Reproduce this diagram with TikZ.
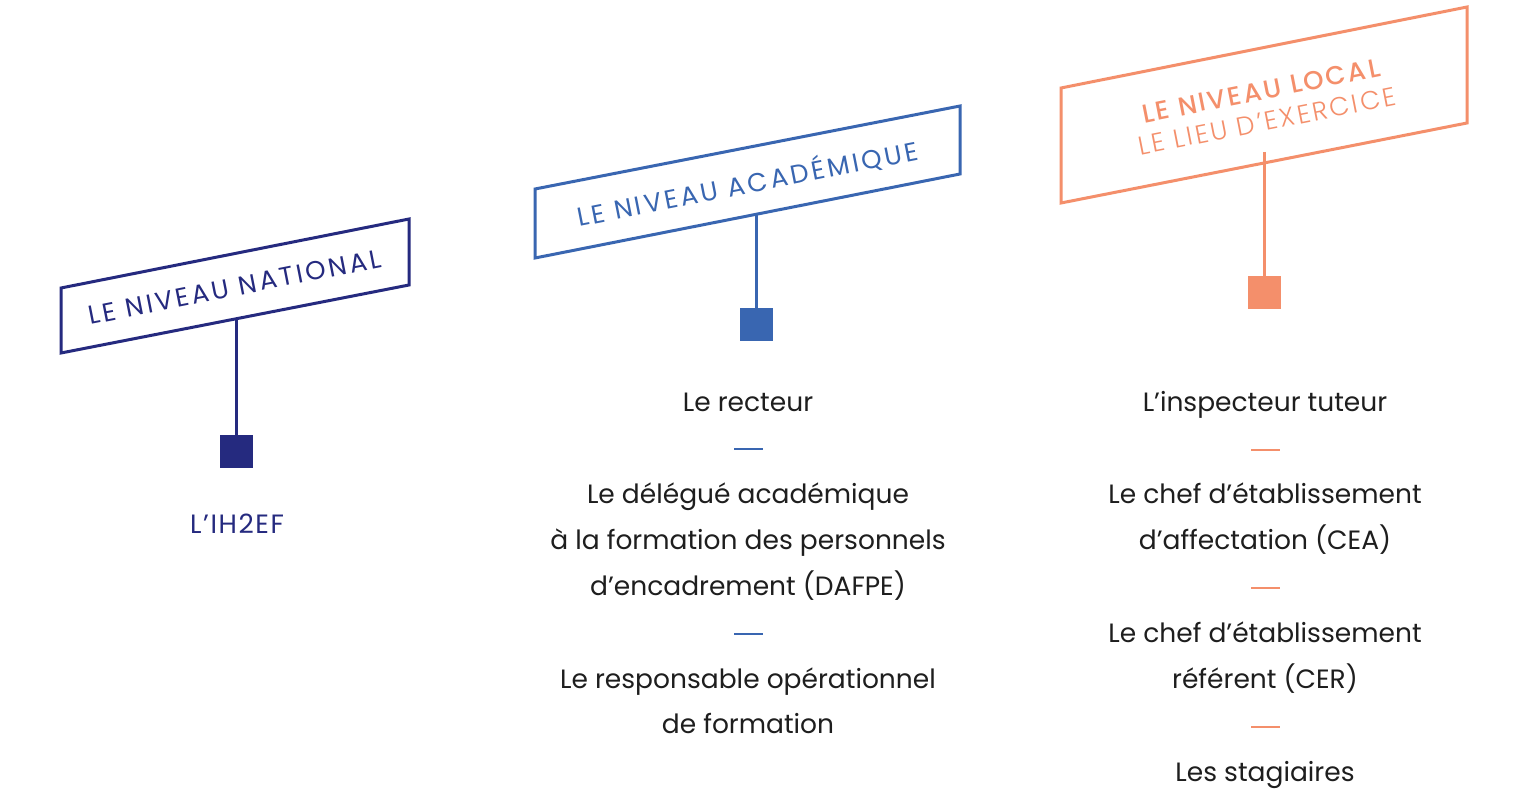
\documentclass[tikz,border=0pt]{standalone}
\usepackage{fontspec}
\usetikzlibrary{calc}
\setmainfont{Poppins}
\newfontfamily\hreg{Poppins}[LetterSpace=11.5]
\newfontfamily\hlight{Poppins Light}[LetterSpace=9.5]
\newfontfamily\hmed{Poppins Medium}[LetterSpace=9]
\newfontfamily\natfont{Poppins}[LetterSpace=6]
\definecolor{navy}{HTML}{252A7F}
\definecolor{acad}{HTML}{3966B1}
\definecolor{salmon}{HTML}{F48F6B}
\definecolor{bodytxt}{HTML}{1E1E1E}
\tikzset{
  boxline/.style={line width=3pt, line join=miter},
  stemline/.style={line width=2.6pt},
  sqmark/.style={rectangle, minimum size=33pt, inner sep=0pt, fill=#1},
  dashmark/.style={rectangle, minimum width=29pt, minimum height=2pt, inner sep=0pt, fill=#1},
  bodyline/.style={anchor=base, inner sep=0pt, text=bodytxt, font=\fontsize{26.5}{46}\selectfont},
  headtext/.style={rotate=11.2, inner sep=0pt, align=center, text=#1, font=\fontsize{26}{31}\selectfont},
}
\begin{document}
\begin{tikzpicture}[x=1pt,y=-1pt]
\useasboundingbox[fill=white] (0,0) rectangle (1521,799);

% ---------- National ----------
\coordinate (nTL) at (61,288);
\coordinate (nTR) at (409,219);
\coordinate (nBR) at (409,285);
\coordinate (nBL) at (61,353);
\draw[navy, boxline] (nTL) -- (nTR) -- (nBR) -- (nBL) -- cycle;
\node[headtext=navy] (nhead) at (235,287) {\hreg LE NIVEAU NATIONAL};
\coordinate (nstem) at ($(nBL)!0.5!(nBR)$);
\node[sqmark=navy] (nsq) at (236.5,451.5) {};
\draw[navy, stemline] (nsq.north |- nstem) -- (nsq.north);
\node[bodyline, text=navy] (n1) at (237,533.5) {\natfont L’IH2EF};

% ---------- Academique ----------
\coordinate (aTL) at (535,189);
\coordinate (aTR) at (960,106);
\coordinate (aBR) at (960,174);
\coordinate (aBL) at (535,258);
\draw[acad, boxline] (aTL) -- (aTR) -- (aBR) -- (aBL) -- cycle;
\node[headtext=acad] (ahead) at (747.5,183) {\hreg LE NIVEAU ACADÉMIQUE};
\coordinate (astem) at ($(aBL)!0.521!(aBR)$);
\node[sqmark=acad] (asq) at (756.5,324.5) {};
\draw[acad, stemline] (asq.north |- astem) -- (asq.north);

\node[bodyline] (a1) at (748,411.5) {Le recteur};
\node[dashmark=acad] (ad1) at (748,449) {};
\node[bodyline] (a2) at (748,503.5) {Le délégué académique};
\node[bodyline] (a3) at (748,549.5) {à la formation des personnels};
\node[bodyline] (a4) at (748,595.5) {d’encadrement (DAFPE)};
\node[dashmark=acad] (ad2) at (748,634) {};
\node[bodyline] (a5) at (748,688.5) {Le responsable opérationnel};
\node[bodyline] (a6) at (748,733.5) {de formation};

% ---------- Local ----------
\coordinate (lTL) at (1061,88);
\coordinate (lTR) at (1467,7);
\coordinate (lBR) at (1467,123);
\coordinate (lBL) at (1061,203);
\draw[salmon, boxline] (lTL) -- (lTR) -- (lBR) -- (lBL) -- cycle;
\node[headtext=salmon] (lhead) at (1264,106) {{\hmed LE NIVEAU LOCAL}\\{\hlight LE LIEU D’EXERCICE}};
\coordinate (lstem) at ($(lBL)!0.501!(lBR)+(0,-11)$);
\node[sqmark=salmon] (lsq) at (1264.5,293) {};
\draw[salmon, stemline] (lsq.north |- lstem) -- (lsq.north);

\node[bodyline] (l1) at (1265,411.5) {L’inspecteur tuteur};
\node[dashmark=salmon] (ld1) at (1265,450) {};
\node[bodyline] (l2) at (1265,503.5) {Le chef d’établissement};
\node[bodyline] (l3) at (1265,549.5) {d’affectation (CEA)};
\node[dashmark=salmon] (ld2) at (1265,588) {};
\node[bodyline] (l4) at (1265,642.5) {Le chef d’établissement};
\node[bodyline] (l5) at (1265,688.5) {référent (CER)};
\node[dashmark=salmon] (ld3) at (1265,727) {};
\node[bodyline] (l6) at (1265,781.5) {Les stagiaires};
\end{tikzpicture}
\end{document}
